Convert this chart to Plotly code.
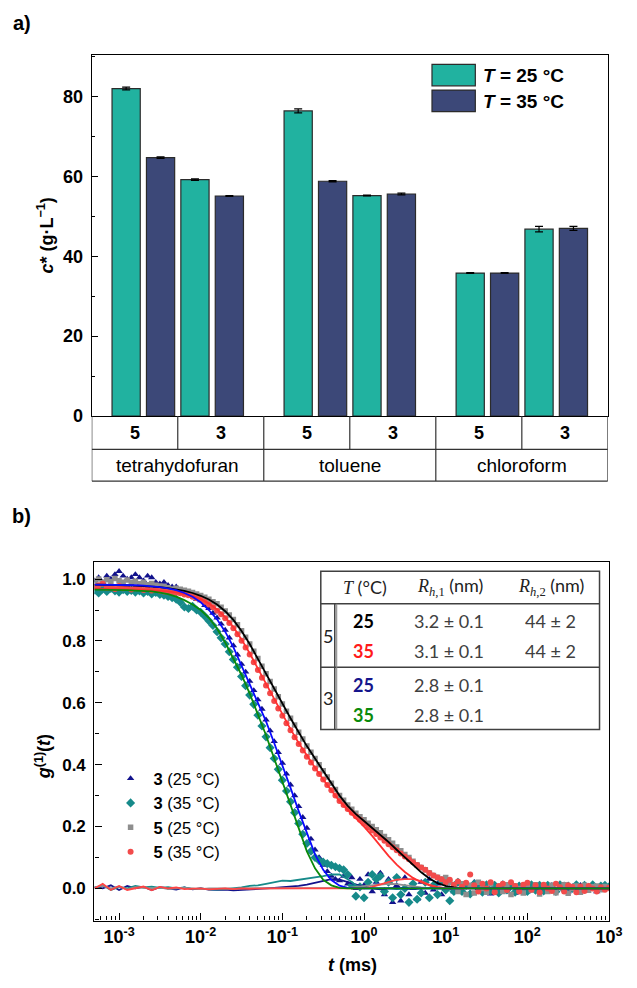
import plotly.graph_objects as go

W, H = 637, 988
FONT = "Liberation Sans, Arial, sans-serif"
TABFONT = "Lato, Open Sans, sans-serif"

# ---------------- panel a data ----------------
SOLVENTS = ["tetrahydofuran", "toluene", "chloroform"]
SAMPLES = ["5", "3"]
TEMP_LABELS = ["<i>T</i> = 25 °C", "<i>T</i> = 35 °C"]
# order: (thf,5) (thf,3) (tol,5) (tol,3) (chl,5) (chl,3)
CSTAR_25 = [82.0, 59.2, 76.4, 55.2, 35.8, 46.8]
CSTAR_35 = [64.7, 55.1, 58.8, 55.6, 35.8, 47.0]
ERR_25 = [0.35, 0.2, 0.5, 0.1, 0.1, 0.7]
ERR_35 = [0.2, 0.1, 0.15, 0.2, 0.1, 0.5]
Y_TICKS_A = [0, 20, 40, 60, 80]

# ---------------- panel b data ----------------
LAG_LOG10 = [
    -3.30, -3.25, -3.20, -3.15, -3.10, -3.05, -3.00, -2.95, -2.90, -2.85,
    -2.80, -2.75, -2.70, -2.65, -2.60, -2.55, -2.50, -2.45, -2.40, -2.35,
    -2.30, -2.25, -2.20, -2.15, -2.10, -2.05, -2.00, -1.95, -1.90, -1.85,
    -1.80, -1.75, -1.70, -1.65, -1.60, -1.55, -1.50, -1.45, -1.40, -1.35,
    -1.30, -1.25, -1.20, -1.15, -1.10, -1.05, -1.00, -0.95, -0.90, -0.85,
    -0.80, -0.75, -0.70, -0.65, -0.60, -0.55, -0.50, -0.45, -0.40, -0.35,
    -0.30, -0.25, -0.20, -0.15, -0.10, -0.05, 0.00, 0.05, 0.10, 0.15,
    0.20, 0.25, 0.30, 0.35, 0.40, 0.45, 0.50, 0.55, 0.60, 0.65,
    0.70, 0.75, 0.80, 0.85, 0.90, 0.95, 1.00, 1.05, 1.10, 1.15,
    1.20, 1.25, 1.30, 1.35, 1.40, 1.45, 1.50, 1.55, 1.60, 1.65,
    1.70, 1.75, 1.80, 1.85, 1.90, 1.95, 2.00, 2.05, 2.10, 2.15,
    2.20, 2.25, 2.30, 2.35, 2.40, 2.45, 2.50, 2.55, 2.60, 2.65,
    2.70, 2.75, 2.80, 2.85, 2.90, 2.95, 3.00]

G1_3_25C = [
    0.995, 1.005, 0.990, 1.010, 1.000, 1.015, 1.025, 1.010, 1.000, 1.005,
    1.015, 1.005, 0.995, 1.010, 1.005, 0.990, 0.985, 0.990, 0.980, 0.975,
    0.975, 0.965, 0.960, 0.955, 0.945, 0.935, 0.930, 0.915, 0.905, 0.890,
    0.875, 0.855, 0.835, 0.810, 0.785, 0.755, 0.725, 0.700, 0.670, 0.640,
    0.610, 0.580, 0.545, 0.510, 0.475, 0.440, 0.405, 0.370, 0.335, 0.300,
    0.265, 0.230, 0.195, 0.160, 0.125, 0.100, 0.075, 0.055, 0.040, 0.030,
    0.025, 0.040, 0.015, 0.035, 0.000, 0.030, 0.010, 0.045, -0.010, 0.020,
    0.050, -0.020, 0.030, -0.045, 0.010, -0.040, 0.035, -0.020, 0.000, -0.035,
    0.020, -0.015, 0.030, -0.005, 0.015, -0.020, 0.025, 0.000, -0.010, 0.020,
    -0.010, 0.015, -0.015, 0.020, 0.000, -0.012, 0.010, -0.018, 0.012, 0.000,
    0.015, -0.010, 0.005, -0.015, 0.010, 0.000, -0.010, 0.012, -0.005, 0.008,
    -0.012, 0.005, 0.010, -0.008, 0.000, 0.012, -0.010, 0.006, -0.004, 0.010,
    -0.006, 0.008, 0.000, -0.010, 0.006, 0.002, 0.004]

G1_3_35C = [
    0.965, 0.955, 0.968, 0.960, 0.970, 0.962, 0.958, 0.966, 0.960, 0.963,
    0.958, 0.962, 0.955, 0.960, 0.952, 0.957, 0.950, 0.948, 0.944, 0.940,
    0.935, 0.925, 0.910, 0.905, 0.912, 0.900, 0.893, 0.880, 0.865, 0.850,
    0.830, 0.810, 0.790, 0.765, 0.740, 0.715, 0.685, 0.655, 0.625, 0.595,
    0.560, 0.525, 0.490, 0.455, 0.420, 0.385, 0.350, 0.315, 0.280, 0.245,
    0.210, 0.175, 0.145, 0.120, 0.100, 0.090, 0.085, 0.080, 0.075, 0.070,
    0.065, 0.060, 0.045, 0.010, -0.025, 0.005, -0.030, 0.020, 0.045, 0.030,
    0.040, -0.010, 0.020, -0.030, 0.035, -0.020, 0.000, -0.045, 0.015, -0.035,
    -0.015, 0.020, -0.030, 0.010, -0.020, 0.025, -0.005, -0.040, -0.010, 0.020,
    -0.010, 0.010, -0.018, 0.015, 0.005, -0.012, 0.012, -0.008, 0.010, -0.015,
    0.012, -0.005, 0.010, -0.012, 0.008, 0.000, -0.010, 0.012, -0.006, 0.010,
    -0.008, 0.010, 0.002, -0.010, 0.012, -0.004, 0.008, 0.000, 0.012, -0.006,
    0.010, 0.000, 0.012, -0.004, 0.008, 0.010, 0.005]

G1_5_25C = [
    0.995, 1.000, 0.990, 0.998, 0.992, 1.002, 0.995, 0.990, 0.997, 0.988,
    0.993, 0.985, 0.990, 0.982, 0.986, 0.980, 0.978, 0.975, 0.972, 0.968,
    0.970, 0.967, 0.964, 0.961, 0.957, 0.952, 0.947, 0.941, 0.935, 0.927,
    0.920, 0.909, 0.897, 0.884, 0.869, 0.852, 0.833, 0.812, 0.790, 0.767,
    0.743, 0.718, 0.694, 0.669, 0.645, 0.620, 0.596, 0.573, 0.550, 0.528,
    0.505, 0.483, 0.460, 0.440, 0.420, 0.400, 0.380, 0.360, 0.340, 0.320,
    0.300, 0.285, 0.270, 0.256, 0.243, 0.232, 0.222, 0.211, 0.200, 0.190,
    0.180, 0.168, 0.157, 0.146, 0.134, 0.122, 0.110, 0.100, 0.088, 0.076,
    0.068, 0.060, 0.050, 0.042, 0.036, 0.030, 0.035, 0.020, 0.010, -0.010,
    0.015, -0.020, 0.010, -0.015, 0.020, 0.000, -0.012, 0.015, -0.008, 0.005,
    -0.010, 0.012, -0.020, 0.008, 0.000, -0.015, 0.010, -0.005, 0.012, -0.018,
    0.006, -0.010, 0.010, -0.014, 0.004, 0.012, -0.016, 0.000, 0.008, -0.012,
    0.010, -0.006, 0.005, 0.008, -0.004, 0.006, 0.003]

G1_5_35C = [
    0.975, 0.980, 0.985, 0.972, 0.975, 0.968, 0.978, 0.970, 0.973, 0.966,
    0.970, 0.972, 0.965, 0.968, 0.963, 0.966, 0.962, 0.960, 0.958, 0.955,
    0.956, 0.954, 0.950, 0.948, 0.943, 0.938, 0.933, 0.926, 0.918, 0.909,
    0.898, 0.886, 0.873, 0.858, 0.841, 0.822, 0.801, 0.779, 0.756, 0.731,
    0.706, 0.681, 0.656, 0.631, 0.606, 0.582, 0.558, 0.534, 0.511, 0.489,
    0.467, 0.446, 0.426, 0.407, 0.388, 0.370, 0.352, 0.334, 0.317, 0.300,
    0.283, 0.270, 0.257, 0.245, 0.233, 0.222, 0.210, 0.198, 0.187, 0.176,
    0.165, 0.154, 0.143, 0.133, 0.123, 0.113, 0.103, 0.094, 0.085, 0.076,
    0.068, 0.060, 0.050, 0.042, 0.035, 0.030, 0.020, 0.028, 0.012, 0.022,
    0.005, 0.018, 0.045, 0.010, -0.010, 0.015, 0.000, 0.020, -0.012, 0.008,
    0.015, -0.005, 0.020, 0.008, -0.010, 0.012, 0.018, -0.004, 0.010, -0.012,
    0.012, 0.000, -0.008, 0.015, 0.004, -0.010, 0.010, 0.005, -0.012, 0.006,
    -0.008, 0.008, 0.000, -0.010, 0.004, -0.004, 0.002]

FIT_LOG10 = [
    -3.3, -3.2, -3.1, -3.0, -2.9, -2.8, -2.7, -2.6, -2.5, -2.4,
    -2.3, -2.2, -2.1, -2.0, -1.9, -1.8, -1.7, -1.6, -1.5, -1.4,
    -1.3, -1.2, -1.1, -1.0, -0.9, -0.8, -0.7, -0.6, -0.5, -0.4,
    -0.3, -0.2, -0.1, 0.0, 0.1, 0.2, 0.3, 0.4, 0.5, 0.6,
    0.7, 0.8, 0.9, 1.0, 1.1, 1.2, 1.3, 1.4, 1.5, 2.0, 2.5, 3.0]

FIT_5_25C = [
    0.982, 0.982, 0.981, 0.981, 0.980, 0.979, 0.978, 0.976, 0.974, 0.971,
    0.967, 0.962, 0.955, 0.946, 0.934, 0.918, 0.896, 0.868, 0.832, 0.790,
    0.742, 0.693, 0.643, 0.595, 0.550, 0.505, 0.460, 0.420, 0.380, 0.340,
    0.300, 0.267, 0.240, 0.218, 0.196, 0.174, 0.150, 0.125, 0.100, 0.075,
    0.052, 0.032, 0.017, 0.008, 0.003, 0.001, 0.0, 0.0, 0.0, 0.0, 0.0, 0.0]

FIT_5_35C = [
    0.968, 0.968, 0.967, 0.967, 0.966, 0.966, 0.965, 0.964, 0.962, 0.960,
    0.957, 0.952, 0.945, 0.935, 0.921, 0.902, 0.877, 0.845, 0.805, 0.760,
    0.710, 0.660, 0.610, 0.562, 0.515, 0.470, 0.428, 0.390, 0.352, 0.316,
    0.282, 0.254, 0.228, 0.200, 0.170, 0.137, 0.105, 0.077, 0.053, 0.034,
    0.020, 0.010, 0.004, 0.001, 0.0, 0.0, 0.0, 0.0, 0.0, 0.0, 0.0, 0.0]

FIT_3_25C = [
    0.982, 0.982, 0.981, 0.981, 0.980, 0.980, 0.979, 0.977, 0.974, 0.970,
    0.964, 0.955, 0.943, 0.925, 0.900, 0.870, 0.830, 0.780, 0.720, 0.665,
    0.605, 0.540, 0.470, 0.400, 0.325, 0.250, 0.180, 0.110, 0.060, 0.027,
    0.009, 0.002, 0.0, 0.0, 0.0, 0.0, 0.0, 0.0, 0.0, 0.0,
    0.0, 0.0, 0.0, 0.0, 0.0, 0.0, 0.0, 0.0, 0.0, 0.0, 0.0, 0.0]

FIT_3_35C = [
    0.966, 0.966, 0.966, 0.965, 0.964, 0.963, 0.962, 0.960, 0.956, 0.951,
    0.943, 0.932, 0.918, 0.900, 0.875, 0.840, 0.795, 0.745, 0.690, 0.630,
    0.565, 0.495, 0.420, 0.345, 0.270, 0.190, 0.120, 0.065, 0.028, 0.010,
    0.002, 0.0, 0.0, 0.0, 0.0, 0.0, 0.0, 0.0, 0.0, 0.0,
    0.0, 0.0, 0.0, 0.0, 0.0, 0.0, 0.0, 0.0, 0.0, 0.0, 0.0, 0.0]

RES_LOG10 = [
    -3.3, -3.2, -3.1, -3.0, -2.9, -2.8, -2.7, -2.6, -2.5, -2.4,
    -2.3, -2.2, -2.1, -2.0, -1.9, -1.8, -1.7, -1.6, -1.5, -1.4,
    -1.3, -1.2, -1.1, -1.0, -0.9, -0.8, -0.7, -0.6, -0.5, -0.4,
    -0.3, -0.2, -0.1, 0.0, 0.1, 0.2, 0.3, 0.4, 0.5, 0.6,
    0.7, 0.8, 0.9, 1.0, 1.1, 1.2]

RES_3_25C = [
    0.005, 0.000, 0.010, -0.005, 0.008, 0.000, 0.005, -0.005, 0.004, 0.000,
    -0.004, 0.003, -0.003, 0.000, -0.004, -0.005, -0.004, -0.006, -0.005, -0.003,
    -0.002, 0.000, 0.002, 0.004, 0.005, 0.008, 0.012, 0.018, 0.025, 0.030,
    0.028, 0.020, 0.012, 0.005, 0.000, -0.003, 0.000, 0.002, 0.000, -0.002,
    0.000, 0.002, 0.000, -0.001, 0.000, 0.000]

RES_3_35C = [
    0.000, 0.010, -0.005, 0.005, 0.000, 0.008, 0.003, 0.006, 0.002, 0.004,
    0.000, 0.003, -0.002, 0.000, -0.003, -0.004, -0.002, 0.000, 0.003, 0.008,
    0.010, 0.015, 0.020, 0.025, 0.024, 0.028, 0.030, 0.035, 0.040, 0.045,
    0.045, 0.030, 0.010, 0.000, 0.000, 0.002, 0.000, -0.002, 0.000, 0.001,
    0.000, 0.000, 0.001, 0.000, 0.000, 0.000]

RES_5_25C = [
    0.004, 0.008, 0.000, 0.006, -0.003, 0.004, 0.002, 0.000, 0.003, -0.002,
    0.000, 0.002, 0.000, -0.002, 0.000, 0.001, 0.000, -0.001, 0.000, 0.000,
    0.001, 0.000, 0.000, 0.001, 0.000, 0.000, 0.000, 0.001, 0.000, 0.000,
    0.000, 0.002, 0.005, 0.008, 0.010, 0.012, 0.015, 0.014, 0.010, 0.006,
    0.003, 0.001, 0.000, 0.000, 0.000, 0.000]

RES_5_35C = [
    0.000, 0.015, -0.005, 0.008, -0.005, 0.000, 0.006, -0.006, 0.005, 0.000,
    0.003, -0.002, 0.000, 0.000, -0.003, -0.002, 0.000, -0.002, 0.000, -0.001,
    0.000, -0.001, 0.000, 0.000, 0.000, -0.001, 0.000, 0.000, 0.000, 0.000,
    0.000, 0.000, 0.000, 0.000, 0.005, 0.013, 0.022, 0.028, 0.030, 0.030,
    0.024, 0.012, 0.004, 0.000, 0.000, 0.000]

X_TICK_EXP = [-3, -2, -1, 0, 1, 2, 3]
X_TICK_TEXT = ["10<sup>-3</sup>", "10<sup>-2</sup>", "10<sup>-1</sup>", "10<sup>0</sup>",
               "10<sup>1</sup>", "10<sup>2</sup>", "10<sup>3</sup>"]
Y_TICKS_B = [0.0, 0.2, 0.4, 0.6, 0.8, 1.0]

# inset table
TAB_SAMPLE = ["5", "3"]
TAB_T = ["25", "35", "25", "35"]
TAB_RH1 = ["3.2 ± 0.1", "3.1 ± 0.1", "2.8 ± 0.1", "2.8 ± 0.1"]
TAB_RH2 = ["44 ± 2", "44 ± 2", "", ""]

# ---------------- styling ----------------
TEAL = "#21b2a0"
NAVY = "#3c4878"
EDGE = "#2b2b2b"
C_3_25, C_3_35, C_5_25, C_5_35 = "#12128c", "#168a8a", "#8e8e8e", "#f24b4b"
T_COLORS = ["#000000", "#ff1a1a", "#15158c", "#0a8a0a"]


def px(x):
    return x / W


def py(y):
    return 1 - y / H


def note(x, y, text, size=18, bold=False, family=FONT, color="black", xanchor="center", **kw):
    f = dict(size=size, family=family, color=color)
    if bold:
        f["weight"] = "bold"
    d = dict(xref="paper", yref="paper", x=px(x), y=py(y), text=text, showarrow=False,
             xanchor=xanchor, yanchor="middle", font=f)
    d.update(kw)
    return d


fig = go.Figure()

# ---- panel a bars ----
pos25 = [5 * s + 2 * j for s in range(len(SOLVENTS)) for j in range(len(SAMPLES))]
pos35 = [p + 1 for p in pos25]
for pos, vals, errs, col in [(pos25, CSTAR_25, ERR_25, TEAL), (pos35, CSTAR_35, ERR_35, NAVY)]:
    fig.add_trace(go.Bar(
        x=pos, y=vals, width=0.82, xaxis="x", yaxis="y",
        marker=dict(color=col, line=dict(color=EDGE, width=1.2)),
        error_y=dict(type="data", array=errs, color="black", thickness=1.2, width=4),
        showlegend=False, hoverinfo="skip"))

# ---- panel b ----
lag = [10 ** e for e in LAG_LOG10]
tfit = [10 ** e for e in FIT_LOG10]
tres = [10 ** e for e in RES_LOG10]

series = [
    ("<b>3</b> (25 °C)", G1_3_25C, C_3_25, "triangle-up", 6.5),
    ("<b>3</b> (35 °C)", G1_3_35C, C_3_35, "diamond", 7),
    ("<b>5</b> (25 °C)", G1_5_25C, C_5_25, "square", 5.5),
    ("<b>5</b> (35 °C)", G1_5_35C, C_5_35, "circle", 6),
]
for name, ys, col, sym, sz in series:
    fig.add_trace(go.Scatter(
        x=lag, y=ys, mode="markers", name=name, xaxis="x2", yaxis="y2",
        marker=dict(symbol=sym, size=sz, color=col, line=dict(width=0))))

for ys, col in [(RES_3_25C, C_3_25), (RES_3_35C, C_3_35), (RES_5_25C, C_5_25), (RES_5_35C, "#ff4444")]:
    fig.add_trace(go.Scatter(x=tres, y=ys, mode="lines", xaxis="x2", yaxis="y2",
                             line=dict(color=col, width=1.8), showlegend=False))

for ys, col in [(FIT_5_25C, "#000000"), (FIT_5_35C, "#ff3030"), (FIT_3_25C, "#0a0aff"), (FIT_3_35C, "#0a8a0a")]:
    fig.add_trace(go.Scatter(x=tfit, y=ys, mode="lines", xaxis="x2", yaxis="y2",
                             line=dict(color=col, width=1.8), showlegend=False))

shapes = []
ann = []
LINE = dict(color="#333333", width=1.2)

# ---- table under panel a ----
y_top, y_mid, y_bot = py(420.3), py(454), py(486)
x_left, x_right = -1, 14
shapes += [
    dict(type="line", xref="x", yref="paper", x0=x_left, x1=x_right, y0=y_mid, y1=y_mid, line=LINE),
    dict(type="line", xref="x", yref="paper", x0=x_left, x1=x_right, y0=y_bot, y1=y_bot, line=LINE),
    dict(type="line", xref="x", yref="paper", x0=x_left, x1=x_left, y0=y_bot, y1=y_top, line=LINE),
    dict(type="line", xref="x", yref="paper", x0=x_right, x1=x_right, y0=y_bot, y1=y_top, line=LINE),
]
for s, solv in enumerate(SOLVENTS):
    g0 = 5 * s - 1
    if s > 0:
        shapes.append(dict(type="line", xref="x", yref="paper", x0=g0, x1=g0, y0=y_bot, y1=y_top, line=LINE))
    shapes.append(dict(type="line", xref="x", yref="paper", x0=g0 + 2.5, x1=g0 + 2.5,
                       y0=y_mid, y1=y_top, line=LINE))
    for j, smp in enumerate(SAMPLES):
        ann.append(dict(xref="x", yref="paper", x=g0 + 1.25 + 2.5 * j, y=(y_top + y_mid) / 2,
                        xanchor="center", yanchor="middle",
                        text=smp, showarrow=False, font=dict(size=18, weight="bold", family=FONT)))
    ann.append(dict(xref="x", yref="paper", x=g0 + 2.5, y=(y_mid + y_bot) / 2,
                    xanchor="center", yanchor="middle",
                    text=solv, showarrow=False, font=dict(size=19, family=FONT)))

# ---- legend of panel a ----
for k, (lab, col) in enumerate(zip(TEMP_LABELS, [TEAL, NAVY])):
    top = 65 + 26 * k
    shapes.append(dict(type="rect", xref="paper", yref="paper", x0=px(441.7), x1=px(486),
                       y0=py(top), y1=py(top + 21.7), fillcolor=col, line=dict(color=EDGE, width=1.2)))
    ann.append(note(492, top + 11.5, lab, size=19, bold=True, xanchor="left"))

# ---- inset table in panel b ----
TB = dict(color="#404040", width=1.5)
shapes += [
    dict(type="rect", xref="paper", yref="paper", x0=px(328), x1=px(613), y0=py(737), y1=py(577),
         fillcolor="white", line=TB),
    dict(type="line", xref="paper", yref="paper", x0=px(328), x1=px(613), y0=py(610), y1=py(610), line=TB),
    dict(type="line", xref="paper", yref="paper", x0=px(328), x1=px(613), y0=py(674), y1=py(674), line=TB),
    dict(type="line", xref="paper", yref="paper", x0=px(342.3), x1=px(342.3), y0=py(737), y1=py(610), line=TB),
    dict(type="line", xref="paper", yref="paper", x0=px(344.3), x1=px(344.3), y0=py(737), y1=py(610),
         line=dict(color="#808080", width=1)),
]
HC = "#222222"
ann += [
    note(373, 593, "<span style=\"font-family:'Liberation Serif'\"><i>T</i></span> (°C)",
         family=TABFONT, color=HC),
    note(460, 593, "<span style=\"font-family:'Liberation Serif'\"><i>R</i><sub><i>h</i>,1</sub></span> (nm)",
         family=TABFONT, color=HC),
    note(563, 593, "<span style=\"font-family:'Liberation Serif'\"><i>R</i><sub><i>h</i>,2</sub></span> (nm)",
         family=TABFONT, color=HC),
    note(335.5, 643, TAB_SAMPLE[0], family=TABFONT, color=HC),
    note(335.5, 705, TAB_SAMPLE[1], family=TABFONT, color=HC),
]
row_y = [627, 658, 692, 722]
for k in range(4):
    ann.append(note(372, row_y[k], TAB_T[k], bold=True, family=TABFONT, color=T_COLORS[k]))
    ann.append(note(459, row_y[k], TAB_RH1[k], family=TABFONT, color="#404040"))
    if TAB_RH2[k]:
        ann.append(note(563, row_y[k], TAB_RH2[k], family=TABFONT, color="#404040"))

# ---- titles & panel labels ----
ann += [
    note(22, 23, "a)", size=20, bold=True),
    note(22, 521, "b)", size=20, bold=True),
    note(47, 238, "<i>c</i>* (g·L<sup>−1</sup>)", bold=True, textangle=-90),
    note(44, 765, "<i>g</i><sup>(1)</sup>(<i>t</i>)", bold=True, textangle=-90),
    note(360, 975, "<i>t</i> (ms)", bold=True),
]

AX = dict(showline=True, linecolor="black", linewidth=1.3, mirror=True, showgrid=False,
          zeroline=False, tickcolor="black", tickwidth=1.2)

fig.update_layout(
    width=W, height=H, autosize=False, margin=dict(l=0, r=0, t=0, b=0),
    paper_bgcolor="white", plot_bgcolor="white",
    font=dict(family=FONT, color="black"),
    barmode="overlay",
    xaxis=dict(domain=[px(93.8), px(621.5)], range=[-1, 14], showticklabels=False, ticks="",
               anchor="y", **AX),
    yaxis=dict(domain=[py(420.3), py(56)], range=[0, 90.3], tickvals=Y_TICKS_A, ticks="inside",
               ticklen=6, minor=dict(ticks="inside", ticklen=3, dtick=10, tickcolor="black"),
               tickfont=dict(size=18, weight="bold"), ticklabelstandoff=4, anchor="x", **AX),
    xaxis2=dict(domain=[px(96.5), px(622.7)], type="log", range=[-3.302, 3.0],
                tickvals=[10 ** e for e in X_TICK_EXP], ticktext=X_TICK_TEXT, ticks="inside",
                ticklen=7, minor=dict(ticks="inside", ticklen=4, dtick="D1", tickcolor="black"),
                tickfont=dict(size=18, weight="bold"), anchor="y2", **AX),
    yaxis2=dict(domain=[py(930), py(567.5)], range=[-0.104, 1.056], tickvals=Y_TICKS_B,
                tickformat=".1f", ticks="inside", ticklen=7,
                minor=dict(ticks="inside", ticklen=4, dtick=0.1, tickcolor="black"),
                tickfont=dict(size=17, weight="bold"), ticklabelstandoff=4, anchor="x2", **AX),
    legend=dict(x=px(110), xanchor="left", y=py(769), yanchor="top", bgcolor="rgba(0,0,0,0)",
                font=dict(size=16.5, family=FONT), itemsizing="trace", itemwidth=36,
                tracegroupgap=0),
    shapes=shapes, annotations=ann,
)

PAGE_FIX = ("document.documentElement.style.margin='0px';"
            "document.documentElement.style.overflow='hidden';"
            "document.body.style.margin='0px';"
            "document.body.style.overflow='hidden';")

fig.write_html("out.html", post_script=PAGE_FIX,
               config={"responsive": False, "displayModeBar": False})
